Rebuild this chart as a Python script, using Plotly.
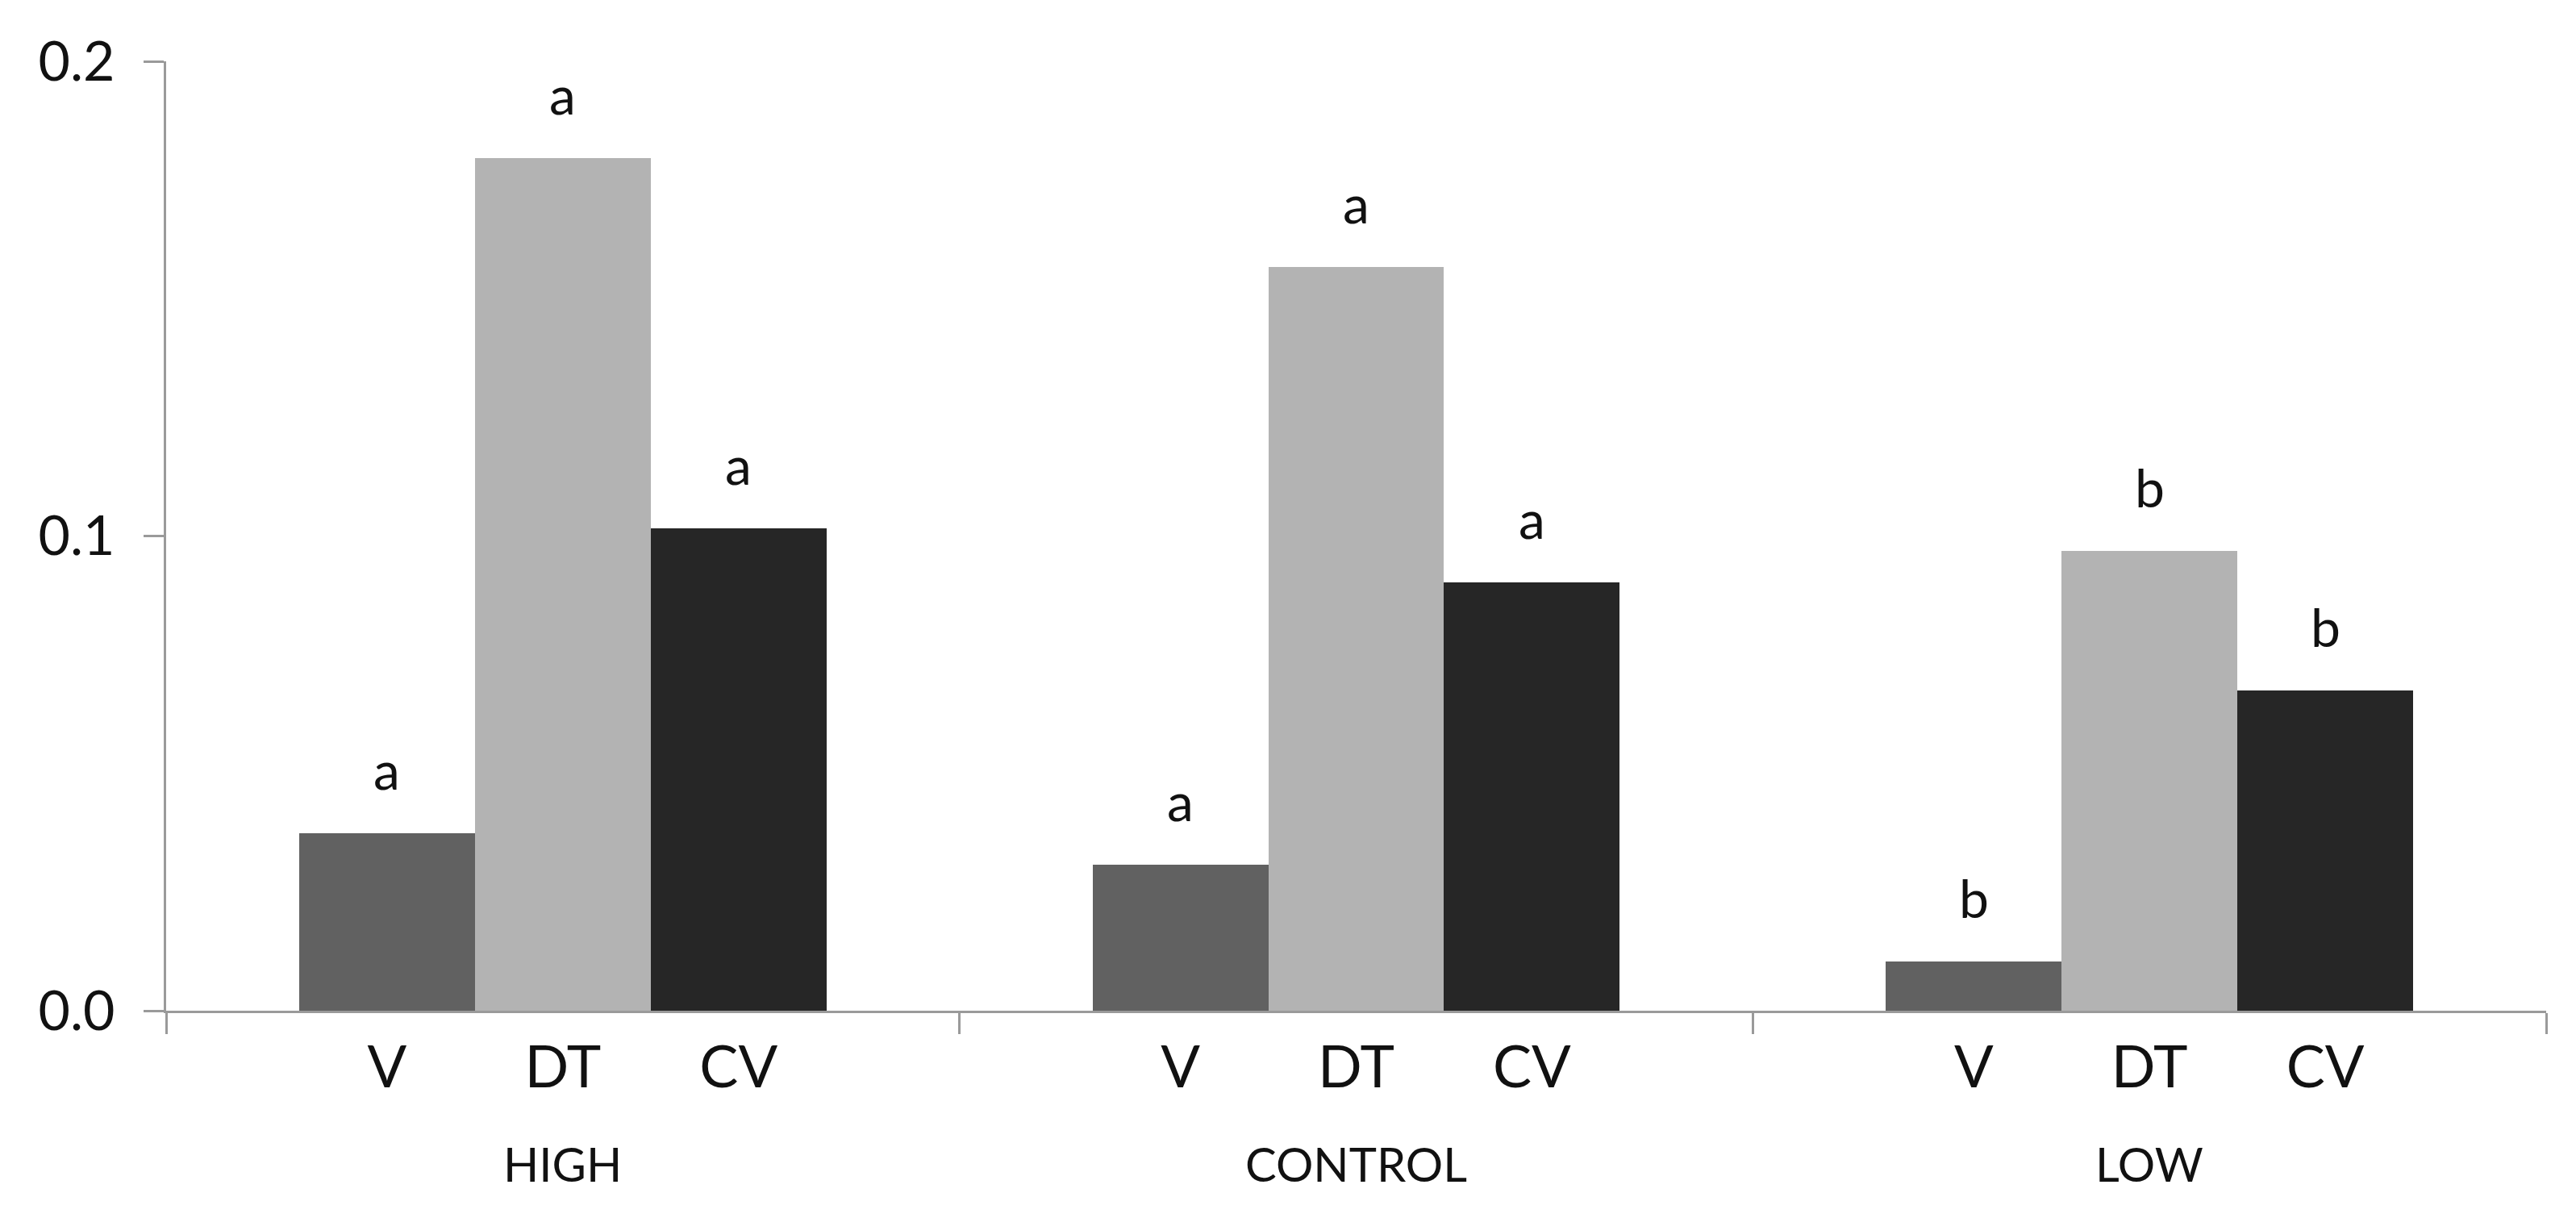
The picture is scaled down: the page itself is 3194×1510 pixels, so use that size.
import plotly.graph_objects as go

groups = ["HIGH", "CONTROL", "LOW"]
treatments = ["V", "DT", "CV"]
v_values = [0.0374, 0.0308, 0.0104]
dt_values = [0.1796, 0.1567, 0.0969]
cv_values = [0.1017, 0.0903, 0.0675]
v_letters = ["a", "a", "b"]
dt_letters = ["a", "a", "b"]
cv_letters = ["a", "a", "b"]
y_ticks = [0.0, 0.1, 0.2]

series = [
    (v_values, v_letters, "#616161"),
    (dt_values, dt_letters, "#b3b3b3"),
    (cv_values, cv_letters, "#262626"),
]

FONT = "Lato, 'Open Sans', sans-serif"
W = 0.2215  # bar width in group units
offsets = [-W, 0.0, W]

fig = go.Figure()
annotations = []
tickvals = []
ticktext = []
for k, (vals, letters, color) in enumerate(series):
    xs = [g + offsets[k] for g in range(len(groups))]
    fig.add_trace(go.Bar(
        x=xs, y=vals, width=W,
        marker=dict(color=color, line=dict(width=0)),
        name=treatments[k], showlegend=False,
    ))
    for x, y, t in zip(xs, vals, letters):
        annotations.append(dict(x=x, y=y, xref="x", yref="y", text=t,
                                showarrow=False, yanchor="bottom", yshift=38,
                                font=dict(family=FONT, size=66, color="#111111")))
    tickvals += xs
    ticktext += [treatments[k]] * len(groups)

for g, name in enumerate(groups):
    annotations.append(dict(x=g, y=-0.1606, xref="x", yref="paper", text=name,
                            showarrow=False, yanchor="middle",
                            font=dict(family=FONT, size=58, color="#111111")))

fig.update_layout(
    width=3194, height=1510,
    margin=dict(l=206, r=37, t=76, b=257),
    paper_bgcolor="white", plot_bgcolor="white",
    annotations=annotations,
    bargap=0, barmode="overlay",
)
fig.update_xaxes(
    range=[-0.5, 2.5], showgrid=False, zeroline=False,
    showline=True, linecolor="#9a9a9a", linewidth=3,
    tickmode="array", tickvals=tickvals, ticktext=ticktext, ticks="",
    tickfont=dict(family=FONT, size=72, color="#111111"),
    ticklabelstandoff=6,
    minor=dict(tickmode="array", tickvals=[-0.5, 0.5, 1.5, 2.5], ticks="outside",
               ticklen=26, tickwidth=3, tickcolor="#9a9a9a", showgrid=False),
)
fig.update_yaxes(
    range=[0, 0.2], showgrid=False, zeroline=False,
    showline=True, linecolor="#9a9a9a", linewidth=3,
    tickmode="array", tickvals=y_ticks, tickformat=".1f",
    ticks="outside", ticklen=25, tickwidth=3, tickcolor="#9a9a9a",
    tickfont=dict(family=FONT, size=68, color="#111111"),
    ticklabelstandoff=22,
)
fig.write_html("out.html")
